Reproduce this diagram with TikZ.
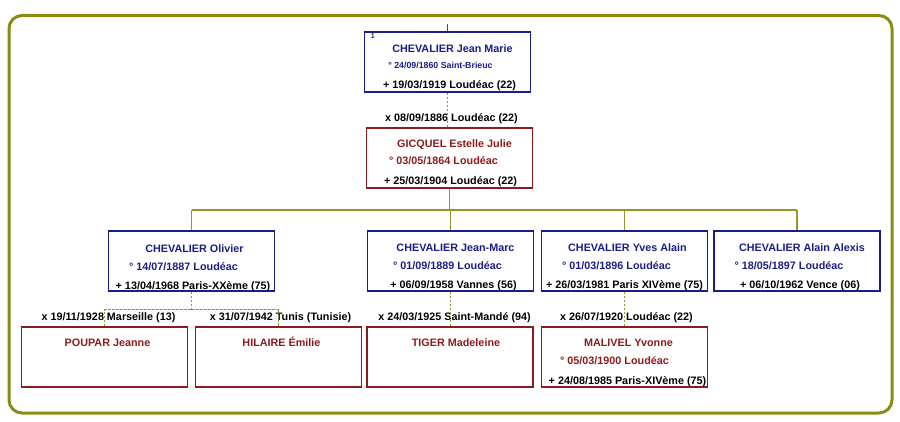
\documentclass[tikz,border=0pt]{standalone}
\usepackage{fontspec}
\setmainfont{Liberation Sans}
\usetikzlibrary{calc}
\definecolor{navy}{RGB}{28,28,135}
\definecolor{brick}{RGB}{140,28,28}
\definecolor{frameol}{RGB}{138,138,22}
\definecolor{lineol}{RGB}{150,150,40}
\tikzstyle{male} = [rectangle, minimum width=166pt, minimum height=60pt, draw=navy, line width=1.6pt]
\tikzstyle{female} = [rectangle, minimum width=166pt, minimum height=60pt, draw=brick, line width=1.6pt]
\tikzstyle{txt} = [anchor=base, inner sep=0pt, font=\fontsize{10.8}{12}\selectfont\bfseries]
\tikzstyle{nameM} = [txt, text=navy]
\tikzstyle{nameF} = [txt, text=brick]
\tikzstyle{death} = [txt, text=black]
\tikzstyle{marr} = [txt, text=black]
\tikzstyle{desc} = [draw=lineol, line width=1.8pt]
\tikzstyle{spouse} = [draw=lineol, line width=1pt, dashed, dash pattern=on 2.5pt off 1.5pt]

\begin{document}
\begin{tikzpicture}[x=1pt, y=-1pt, node distance=96pt]
    \useasboundingbox (0,0) rectangle (900,422);
    \draw [frameol, line width=3pt, rounded corners=13pt] (9,15.5) rectangle (892,413);

    % root couple
    \node (jm) [male] at (447.5,62) {};
    \node (gj) [female, below of=jm, xshift=2pt] {};

    % children
    \node (jmc) [male, below of=gj, yshift=-7pt, xshift=1pt] {};
    \node (ol)  [male, left of=jmc, xshift=-163pt] {};
    \node (ya)  [male, right of=jmc, xshift=78pt] {};
    \node (aa)  [male, right of=ya, xshift=76.5pt] {};

    % spouses of the children
    \node (pj) [female, below of=ol, xshift=-87pt] {};
    \node (he) [female, right of=pj, xshift=78pt] {};
    \node (tm) [female, below of=jmc, xshift=-0.5pt] {};
    \node (my) [female, below of=ya] {};

    % texts
    \node (jm-nr) [anchor=north west, inner sep=0pt, text=navy, font=\fontsize{7}{8}\selectfont\bfseries] at ([xshift=7pt,yshift=-2.5pt]jm.north west) {1};
    \node (jm-n) [nameM] at ([xshift=5pt,yshift=-21pt]jm.north) {CHEVALIER Jean Marie};
    \node (jm-b) [nameM, font=\fontsize{8.8}{10}\selectfont\bfseries] at ([xshift=-7pt,yshift=-37pt]jm.north) {° 24/09/1860 Saint-Brieuc};
    \node (jm-d) [death] at ([xshift=2pt,yshift=-57pt]jm.north) {+ 19/03/1919 Loudéac (22)};

    \node (gj-m) [marr] at ([xshift=2pt,yshift=6pt]gj.north) {x 08/09/1886 Loudéac (22)};
    \node (gj-n) [nameF] at ([xshift=5pt,yshift=-20pt]gj.north) {GICQUEL Estelle Julie};
    \node (gj-b) [nameF] at ([xshift=-6pt,yshift=-37pt]gj.north) {° 03/05/1864 Loudéac};
    \node (gj-d) [death] at ([xshift=1pt,yshift=-57pt]gj.north) {+ 25/03/1904 Loudéac (22)};

    \node (ol-n) [nameM] at ([xshift=3pt,yshift=-22pt]ol.north) {CHEVALIER Olivier};
    \node (ol-b) [nameM] at ([xshift=-8pt,yshift=-40pt]ol.north) {° 14/07/1887 Loudéac};
    \node (ol-d) [death] at ([xshift=1.5pt,yshift=-59pt]ol.north) {+ 13/04/1968 Paris-XXème (75)};

    \node (jmc-n) [nameM] at ([xshift=5pt,yshift=-21pt]jmc.north) {CHEVALIER Jean-Marc};
    \node (jmc-b) [nameM] at ([xshift=-3pt,yshift=-39pt]jmc.north) {° 01/09/1889 Loudéac};
    \node (jmc-d) [death] at ([xshift=3pt,yshift=-58pt]jmc.north) {+ 06/09/1958 Vannes (56)};

    \node (ya-n) [nameM] at ([xshift=3pt,yshift=-21pt]ya.north) {CHEVALIER Yves Alain};
    \node (ya-b) [nameM] at ([xshift=-8pt,yshift=-39pt]ya.north) {° 01/03/1896 Loudéac};
    \node (ya-d) [death] at ([xshift=0pt,yshift=-58pt]ya.north) {+ 26/03/1981 Paris XIVème (75)};

    \node (aa-n) [nameM] at ([xshift=5pt,yshift=-21pt]aa.north) {CHEVALIER Alain Alexis};
    \node (aa-b) [nameM] at ([xshift=-8pt,yshift=-39pt]aa.north) {° 18/05/1897 Loudéac};
    \node (aa-d) [death] at ([xshift=3pt,yshift=-58pt]aa.north) {+ 06/10/1962 Vence (06)};

    \node (pj-m) [marr] at ([xshift=4pt,yshift=6pt]pj.north) {x 19/11/1928 Marseille (13)};
    \node (pj-n) [nameF] at ([xshift=3pt,yshift=-20pt]pj.north) {POUPAR Jeanne};

    \node (he-m) [marr] at ([xshift=2pt,yshift=6pt]he.north) {x 31/07/1942 Tunis (Tunisie)};
    \node (he-n) [nameF] at ([xshift=3pt,yshift=-20pt]he.north) {HILAIRE Émilie};

    \node (tm-m) [marr] at ([xshift=4.5pt,yshift=6pt]tm.north) {x 24/03/1925 Saint-Mandé (94)};
    \node (tm-n) [nameF] at ([xshift=6pt,yshift=-20pt]tm.north) {TIGER Madeleine};

    \node (my-m) [marr] at ([xshift=2pt,yshift=6pt]my.north) {x 26/07/1920 Loudéac (22)};
    \node (my-n) [nameF] at ([xshift=4pt,yshift=-20pt]my.north) {MALIVEL Yvonne};
    \node (my-b) [nameF] at ([xshift=-10pt,yshift=-38pt]my.north) {° 05/03/1900 Loudéac};
    \node (my-d) [death] at ([xshift=3pt,yshift=-58pt]my.north) {+ 24/08/1985 Paris-XIVème (75)};

    % connectors
    \coordinate (top) at ([yshift=7pt]jm.north);
    \coordinate (fam) at ([yshift=-21pt]gj.south);
    \coordinate (olm) at ([yshift=-18pt]ol.south);

    \draw [black!70, line width=0.6pt] (jm.north) -- (top);
    \draw [spouse] (jm.south) -- (jm.south |- gj.north);

    \draw [desc] (gj.south) -- (fam);
    \draw [desc] (ol.north |- fam) -- (aa.north |- fam);
    \draw [desc] (ol.north) -- (ol.north |- fam);
    \draw [desc] (jmc.north) -- (jmc.north |- fam);
    \draw [desc] (ya.north) -- (ya.north |- fam);
    \draw [desc] (aa.north) -- (aa.north |- fam);

    \draw [spouse] (ol.south) -- (olm);
    \draw [spouse] (pj.north) |- (olm) -| (he.north);
    \draw [spouse] (jmc.south) -- (jmc.south |- tm.north);
    \draw [spouse] (ya.south) -- (ya.south |- my.north);

  \end{tikzpicture}
\end{document}
